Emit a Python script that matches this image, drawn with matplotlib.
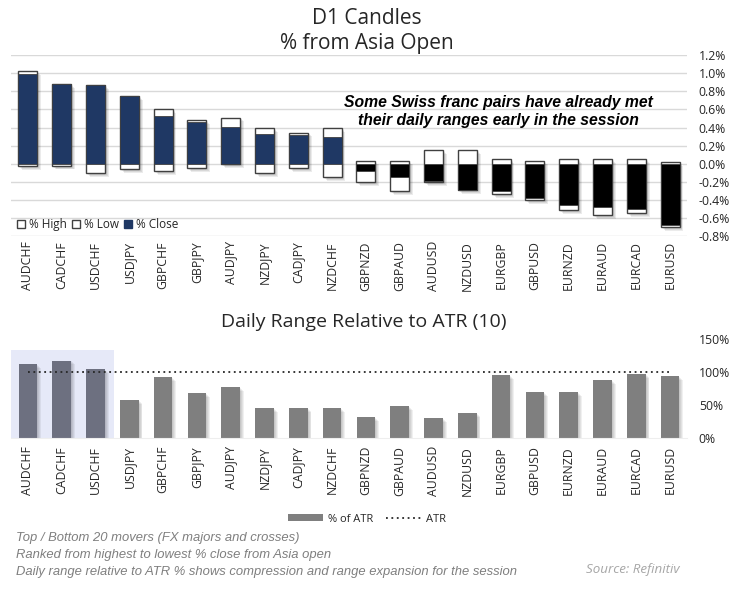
import matplotlib
matplotlib.use("Agg")
from matplotlib import pyplot as plt
from matplotlib import patheffects as pe
from matplotlib.lines import Line2D
from matplotlib.patches import Patch, Rectangle

W, H = 749, 595

pairs = ["AUDCHF", "CADCHF", "USDCHF", "USDJPY", "GBPCHF", "GBPJPY", "AUDJPY", "NZDJPY", "CADJPY", "NZDCHF",
         "GBPNZD", "GBPAUD", "AUDUSD", "NZDUSD", "EURGBP", "GBPUSD", "EURNZD", "EURAUD", "EURCAD", "EURUSD"]
pct_high = [1.02, 0.88, 0.87, 0.75, 0.60, 0.48, 0.51, 0.39, 0.345, 0.39,
            0.035, 0.035, 0.155, 0.155, 0.055, 0.035, 0.055, 0.055, 0.055, 0.02]
pct_low = [-0.03, -0.02, -0.10, -0.055, -0.08, -0.045, 0.0, -0.10, -0.045, -0.145,
           -0.20, -0.30, -0.20, -0.29, -0.33, -0.40, -0.51, -0.565, -0.545, -0.70]
pct_close = [0.99, 0.88, 0.87, 0.75, 0.53, 0.465, 0.41, 0.33, 0.315, 0.30,
             -0.075, -0.145, -0.195, -0.285, -0.305, -0.38, -0.455, -0.48, -0.50, -0.68]
pct_atr = [111.5, 117.5, 104, 57.5, 92, 68, 77, 45.5, 45.5, 45.5,
           32, 48.5, 30.5, 38, 95, 69.5, 69.5, 87.5, 96.5, 93.5]
atr_level = [100] * 20
top_ticks = [-0.8, -0.6, -0.4, -0.2, 0.0, 0.2, 0.4, 0.6, 0.8, 1.0, 1.2]
bottom_ticks = [0, 50, 100, 150]
highlighted = 3  # the CHF pairs in the shaded box

plt.rcParams['font.family'] = ['Open Sans', 'DejaVu Sans']
TEXT = "#262626"


def px_axes(left, top, right, bottom):
    return fig.add_axes([left / W, 1 - bottom / H, (right - left) / W, (bottom - top) / H])


def shadow(step=0.7, alpha=0.08):
    # soft drop shadow, built up from a few offset copies
    layers = [pe.SimplePatchShadow(offset=(step * i, -step * i), shadow_rgbFace="black", alpha=alpha)
              for i in (4, 3, 2, 1)]
    return layers + [pe.Normal()]


def clean_axes(ax, label_pad):
    for side in ax.spines:
        ax.spines[side].set_visible(False)
    ax.set_xlim(-0.5, len(pairs) - 0.5)
    ax.set_xticks(range(len(pairs)))
    ax.set_xticklabels(pairs, rotation=90, fontsize=8.8, color=TEXT)
    ax.yaxis.tick_right()
    ax.tick_params(axis='both', length=0, labelsize=8.8, labelcolor=TEXT)
    ax.tick_params(axis='x', pad=label_pad)
    ax.tick_params(axis='y', pad=8.5)


fig = plt.figure(figsize=(W / 100, H / 100), dpi=100, facecolor="white")

# top chart
ax = px_axes(11, 55, 687, 236.3)
clean_axes(ax, 3.5)
ax.set_ylim(-0.8, 1.2)
ax.set_yticks(top_ticks)
ax.set_yticklabels([f"{t:.1f}%" for t in top_ticks])
ax.yaxis.grid(True, color="#d9d9d9", linewidth=1)
ax.set_axisbelow(True)

x = list(range(len(pairs)))
ranges = [h - l for h, l in zip(pct_high, pct_low)]
range_bars = ax.bar(x, ranges, bottom=pct_low, width=0.56, color="white", edgecolor="#404040", linewidth=1)
for b in range_bars:
    b.set_path_effects(shadow())
close_colors = ["#1f3864" if c > 0 else "black" for c in pct_close]
ax.bar(x, pct_close, width=0.56, color=close_colors, edgecolor="#404040", linewidth=0.6)

ax.legend(handles=[Patch(facecolor="white", edgecolor="#404040", label="% High"),
                   Patch(facecolor="white", edgecolor="#404040", label="% Low"),
                   Patch(facecolor="#1f3864", edgecolor="#1f3864", label="% Close")],
          ncol=3, frameon=False, fontsize=8.5, labelcolor=TEXT, loc="center left",
          bbox_to_anchor=(0.0085, 0.065), borderaxespad=0, borderpad=0,
          handlelength=0.7, handleheight=0.7, handletextpad=0.3, columnspacing=0.45)

# bottom chart
ax2 = px_axes(11, 339, 687, 438.3)
clean_axes(ax2, 5.5)
ax2.set_ylim(0, 150)
ax2.set_yticks(bottom_ticks)
ax2.set_yticklabels([f"{t}%" for t in bottom_ticks])
ax2.spines['bottom'].set_visible(True)
ax2.spines['bottom'].set_color("#eeeeee")

ax2.add_patch(Rectangle((-0.53, 0), highlighted + 0.07, 134, facecolor="#e6e9f8", edgecolor="none", zorder=0))
bar_colors = ["#6d7080" if i < highlighted else "#7f7f7f" for i in x]
atr_bars = ax2.bar(x, pct_atr, width=0.55, color=bar_colors, zorder=2)
for b in atr_bars:
    b.set_path_effects(shadow(alpha=0.06))
ax2.plot(x, atr_level, color="#262626", linestyle=(0, (1, 2)), linewidth=1.3, zorder=3)

fig.legend(handles=[Patch(facecolor="#7f7f7f", label="% of ATR"),
                    Line2D([0], [0], color="#262626", linestyle=(0, (1, 2)), linewidth=1.3, label="ATR")],
           ncol=2, frameon=False, fontsize=8, labelcolor=TEXT, loc="center",
           bbox_to_anchor=(367 / W, 1 - 519 / H), borderaxespad=0, borderpad=0,
           handlelength=3.2, handleheight=0.5, handletextpad=0.4, columnspacing=1.2)

# titles and notes
fig.text(367 / W, 1 - 19 / H, "D1 Candles", ha="center", va="center", fontsize=15, color=TEXT)
fig.text(367 / W, 1 - 43 / H, "% from Asia Open", ha="center", va="center", fontsize=15, color=TEXT)
fig.text(364 / W, 1 - 322 / H, "Daily Range Relative to ATR (10)", ha="center", va="center", fontsize=14, color=TEXT)

fig.text(498 / W, 1 - 102 / H, "Some Swiss franc pairs have already met", ha="center", va="center",
         family="Liberation Sans", fontsize=11.3, style="italic", weight="bold", color="black")
fig.text(498 / W, 1 - 120.5 / H, "their daily ranges early in the session", ha="center", va="center",
         family="Liberation Sans", fontsize=11.3, style="italic", weight="bold", color="black")

fig.text(16 / W, 1 - 538.5 / H, "Top / Bottom 20 movers (FX majors and crosses)", va="center",
         family="Liberation Sans", fontsize=9.4, style="italic", color="#7f7f7f")
fig.text(16 / W, 1 - 555 / H, "Ranked from highest to lowest % close from Asia open", va="center",
         family="Liberation Sans", fontsize=9.4, style="italic", color="#7f7f7f")
fig.text(16 / W, 1 - 571.5 / H, "Daily range relative to ATR % shows compression and range expansion for the session",
         va="center", family="Liberation Sans", fontsize=9.4, style="italic", color="#7f7f7f")
fig.text(586 / W, 1 - 570 / H, "Source: Refinitiv", va="center", fontsize=9.6, style="italic", color="#a6a6a6")

fig.savefig("out.png", dpi=100)
